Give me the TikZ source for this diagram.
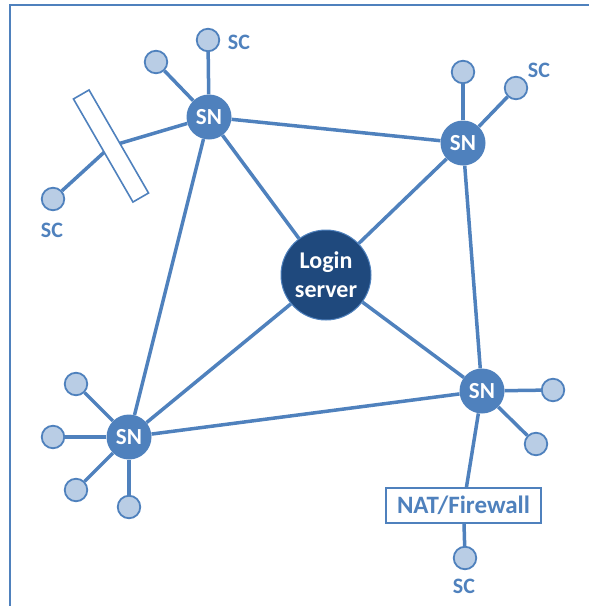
\documentclass[tikz,border=0pt]{standalone}
\usepackage{fontspec}
\setmainfont{Carlito}
\definecolor{snblue}{HTML}{4F81BD}
\definecolor{scfill}{HTML}{B9CDE5}
\definecolor{darkblue}{HTML}{1F497D}
\pgfdeclarelayer{background}
\pgfsetlayers{background,main}
\begin{document}
\begin{tikzpicture}[x=1pt,y=-1pt,
  sn/.style={circle,fill=snblue,minimum size=45pt,inner sep=0pt,text=white,font=\bfseries\fontsize{23}{23}\selectfont},
  sc/.style={circle,fill=scfill,draw=snblue,line width=1.8pt,minimum size=22.5pt,inner sep=0pt},
  link/.style={draw=snblue,line width=3.5pt},
  lbl/.style={text=snblue,font=\bfseries\fontsize{22}{22}\selectfont},
  boxst/.style={draw=snblue,line width=1.6pt,fill=white,inner sep=0pt}]
\clip (0,0) rectangle (589,606);
\draw[snblue,line width=1.5pt] (10,5) rectangle (640,660);
% main nodes
\node[sn] (sn1) at (209,117) {SN};
\node[sn] (sn2) at (463,143) {SN};
\node[sn] (sn3) at (129,437) {SN};
\node[sn] (sn4) at (482,391) {SN};
\node[circle,fill=darkblue,draw=snblue,line width=1pt,minimum size=90pt,inner sep=0pt,text=white,
  align=center,font=\bfseries\fontsize{24}{29}\selectfont] (login) at (326,275) {Login\\server};
% clients
\node[sc] (a1) at (208,40) {};
\node[sc] (a2) at (156,62) {};
\node[sc] (a3) at (53,199) {};
\node[sc] (b1) at (463,72) {};
\node[sc] (b2) at (516,88) {};
\node[sc] (c1) at (76,384) {};
\node[sc] (c2) at (53,437) {};
\node[sc] (c3) at (76,490) {};
\node[sc] (c4) at (129,507) {};
\node[sc] (d1) at (553,390) {};
\node[sc] (d2) at (536,444) {};
\node[sc] (d3) at (465,558) {};
% barriers
\node[boxst,minimum width=119pt,minimum height=18pt,rotate=-60] (wall) at (111,146) {};
\node[boxst,minimum width=155pt,minimum height=35pt,text=snblue,font=\bfseries\fontsize{25}{25}\selectfont] (nat) at (463.5,505.5) {NAT/Firewall};
% labels
\node[lbl] (l1) at (239,42) {SC};
\node[lbl] (l2) at (52,230) {SC};
\node[lbl] (l3) at (539,70) {SC};
\node[lbl] (l4) at (464,586) {SC};
\begin{pgfonlayer}{background}
\draw[link] (sn1) -- (sn2);
\draw[link] (sn1) -- (login);
\draw[link] (sn1) -- (sn3);
\draw[link] (sn2) -- (login);
\draw[link] (sn2) -- (sn4);
\draw[link] (sn3) -- (login);
\draw[link] (sn3) -- (sn4);
\draw[link] (sn4) -- (login);
\draw[link] (sn1) -- (a1);
\draw[link] (sn1) -- (a2);
\draw[link] (sn1) -- (wall.center) -- (a3);
\draw[link] (sn2) -- (b1);
\draw[link] (sn2) -- (b2);
\draw[link] (sn3) -- (c1);
\draw[link] (sn3) -- (c2);
\draw[link] (sn3) -- (c3);
\draw[link] (sn3) -- (c4);
\draw[link] (sn4) -- (d1);
\draw[link] (sn4) -- (d2);
\draw[link] (sn4) -- (nat);
\draw[link] (nat) -- (d3);
\end{pgfonlayer}
\end{tikzpicture}
\end{document}
